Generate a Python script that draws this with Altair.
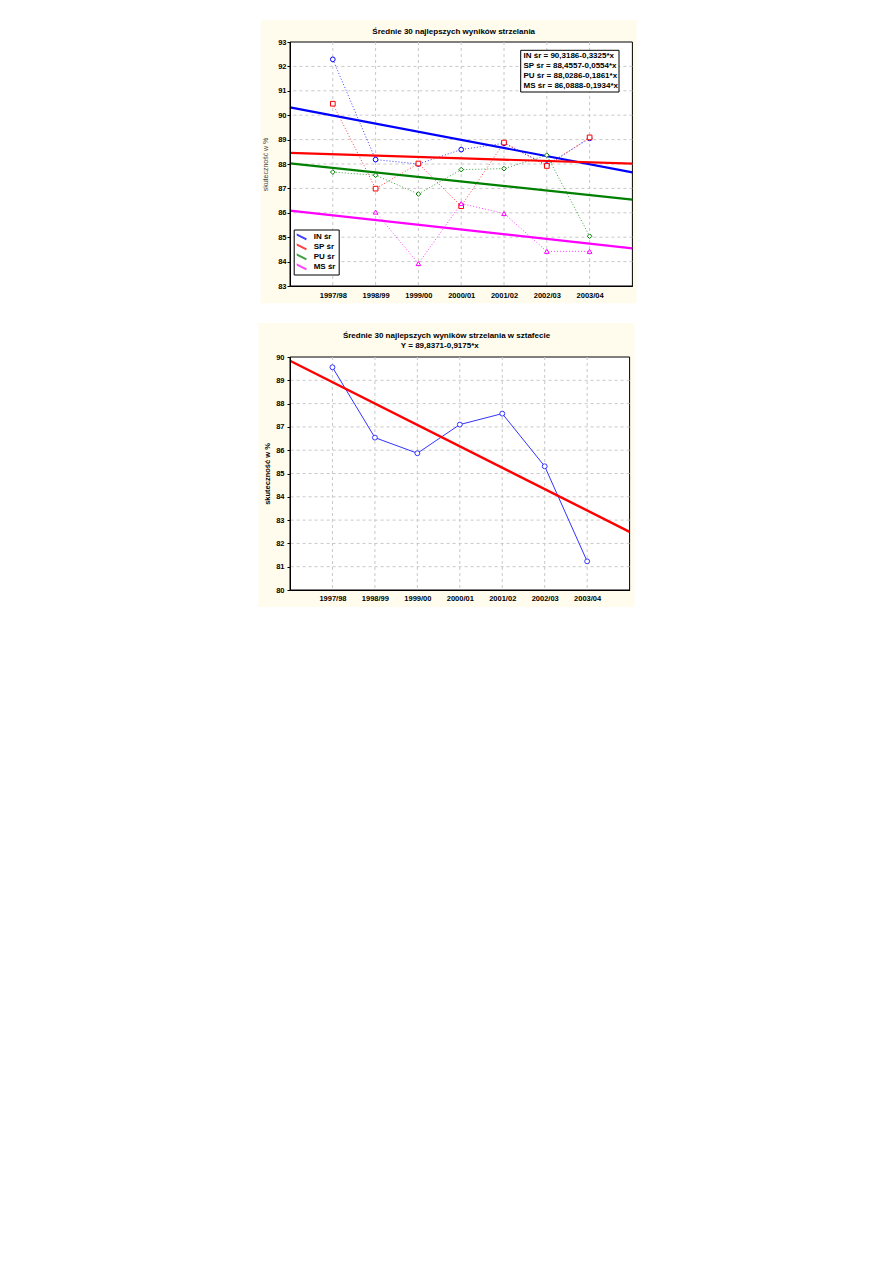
import json
import altair as alt
import pandas as pd

# ---------------- data ----------------
seasons = ["1997/98", "1998/99", "1999/00", "2000/01", "2001/02", "2002/03", "2003/04"]
x_pos = [1, 2, 3, 4, 5, 6, 7]

series_names = ["IN śr", "SP śr", "PU śr", "MS śr"]
in_sr = [92.29, 88.18, 88.00, 88.59, 88.85, 87.96, 89.05]
sp_sr = [90.47, 86.99, 88.02, 86.27, 88.88, 87.92, 89.09]
pu_sr = [87.67, 87.54, 86.77, 87.77, 87.81, 88.36, 85.04]
ms_sr = [None, 86.03, 83.92, 86.38, 85.97, 84.42, 84.42]
intercepts = [90.3186, 88.4557, 88.0286, 86.0888]
slopes = [-0.3325, -0.0554, -0.1861, -0.1934]
colors = ["#0000ff", "#ff0000", "#008000", "#ff00ff"]
shapes = ["circle", "square", "diamond", "triangle-up"]
y_ticks_top = list(range(83, 94))

relay = [89.56, 86.54, 85.87, 87.10, 87.57, 85.31, 81.23]
relay_intercept = 89.8371
relay_slope = -0.9175
y_ticks_bottom = list(range(80, 91))

x_span = [0, 8]

title_top = "Średnie 30 najlepszych wyników strzelania"
title_bottom = ["Średnie 30 najlepszych wyników strzelania w sztafecie", "Y = 89,8371-0,9175*x"]
y_title = "skuteczność w %"

# ---------------- tables ----------------
all_series = [in_sr, sp_sr, pu_sr, ms_sr]
rows = []
for name, vals in zip(series_names, all_series):
    for xp, v in zip(x_pos, vals):
        rows.append({"series": name, "x": xp, "y": v})
top_df = pd.DataFrame(rows)

reg_rows = []
for name, a, b in zip(series_names, intercepts, slopes):
    for xv in x_span:
        reg_rows.append({"series": name, "x": xv, "y": a + b * xv})
reg_df = pd.DataFrame(reg_rows)

def fmt_eq(prefix, a, b):
    s = f"{prefix} = {a:.4f}-{abs(b):.4f}*x"
    return s.replace(".", ",")

eq_text = "\n".join(fmt_eq(n, a, b) for n, a, b in zip(series_names, intercepts, slopes))
eq_df = pd.DataFrame({"t": [eq_text]})

relay_df = pd.DataFrame({"x": x_pos, "y": relay})
relay_reg_df = pd.DataFrame({"x": x_span, "y": [relay_intercept + relay_slope * v for v in x_span]})

one = pd.DataFrame({"a": [0]})
label_expr = f"{json.dumps(seasons)}[datum.value - 1]"

FONT = "Liberation Sans"
GRID = dict(color="#c8c8c8", strokeDash=[3, 3], strokeWidth=1)
TXT = dict(font=FONT, fontSize=8, fontWeight="bold", color="black")

# ---------------- top chart ----------------
W1, H1 = 342.4, 244
xs1 = alt.Scale(domain=x_span, nice=False, zero=False)
ys1 = alt.Scale(domain=[83, 93], nice=False, zero=False)
cscale = alt.Scale(domain=series_names, range=colors)

x_axis1 = alt.Axis(values=x_pos, labelExpr=label_expr, grid=False, tickSize=0,
                   labelPadding=5, title=None, zindex=1)
y_axis1 = alt.Axis(values=y_ticks_top, grid=False, tickSize=3, labelPadding=1,
                   title=y_title, titleFontWeight="normal", titleColor="#444444",
                   titleFontSize=7, titlePadding=9, zindex=1)

cream1 = alt.Chart(one).mark_rect(color="#fffcee").encode(
    x=alt.value(-29.3), x2=alt.value(W1 + 4.3), y=alt.value(-21.7), y2=alt.value(H1 + 17.3))
white1 = alt.Chart(one).mark_rect(fill="white", stroke="black", strokeWidth=1).encode(
    x=alt.value(0), x2=alt.value(W1), y=alt.value(0), y2=alt.value(H1))
vgrid1 = alt.Chart(pd.DataFrame({"x": x_pos})).mark_rule(**GRID).encode(
    x=alt.X("x:Q", scale=xs1, axis=x_axis1))
hgrid1 = alt.Chart(pd.DataFrame({"y": y_ticks_top[1:-1]})).mark_rule(**GRID).encode(
    y=alt.Y("y:Q", scale=ys1, axis=y_axis1))

data_lines = alt.Chart(top_df).mark_line(strokeDash=[1, 2], strokeWidth=1, opacity=0.75).encode(
    x=alt.X("x:Q", scale=xs1, axis=x_axis1),
    y=alt.Y("y:Q", scale=ys1, axis=y_axis1),
    color=alt.Color("series:N", scale=cscale),
    detail="series:N")

reg_lines = alt.Chart(reg_df).mark_line(strokeWidth=2.2).encode(
    x=alt.X("x:Q", scale=xs1, axis=x_axis1),
    y=alt.Y("y:Q", scale=ys1, axis=y_axis1),
    color=alt.Color("series:N", scale=cscale,
                    legend=alt.Legend(title=None, orient="none", legendX=3.7, legendY=187.5,
                                      fillColor="white", strokeColor="black", padding=3,
                                      symbolType="M-1.5,-0.75L1.5,0.75", symbolSize=49,
                                      symbolStrokeWidth=2, symbolFillColor="transparent",
                                      labelFont=FONT, labelFontSize=8, labelFontWeight="bold",
                                      labelColor="black", rowPadding=1, labelOffset=8,
                                      clipHeight=8.5, labelLimit=60)))

point_layers = []
for name, col, shp in zip(series_names, colors, shapes):
    point_layers.append(
        alt.Chart(top_df).transform_filter(alt.datum.series == name).mark_point(
            shape=shp, color=col, filled=False, fill="white", fillOpacity=1, size=22, strokeWidth=1
        ).encode(
            x=alt.X("x:Q", scale=xs1, axis=x_axis1),
            y=alt.Y("y:Q", scale=ys1, axis=y_axis1)))

eq_box = alt.Chart(one).mark_rect(fill="white", stroke="black", strokeWidth=1).encode(
    x=alt.value(230.7), x2=alt.value(329), y=alt.value(8.3), y2=alt.value(50))
eq_txt = alt.Chart(eq_df).mark_text(align="left", baseline="top", lineBreak="\n", lineHeight=10,
                                     **TXT).encode(
    x=alt.value(233.5), y=alt.value(10), text="t:N")

ttl1 = alt.Chart(pd.DataFrame({"t": [title_top]})).mark_text(
    align="center", baseline="middle", **TXT).encode(
    x=alt.value(163.7), y=alt.value(-9.6), text="t:N")

top = alt.layer(cream1, white1, vgrid1, hgrid1, data_lines, reg_lines, *point_layers,
                eq_box, eq_txt, ttl1).properties(width=W1, height=H1)

# ---------------- bottom chart ----------------
W2, H2 = 339.6, 233
xs2 = alt.Scale(domain=x_span, nice=False, zero=False)
ys2 = alt.Scale(domain=[80, 90], nice=False, zero=False)

x_axis2 = alt.Axis(values=x_pos, labelExpr=label_expr, grid=False, tickSize=0,
                   labelPadding=4, title=None, zindex=1)
y_axis2 = alt.Axis(values=y_ticks_bottom, grid=False, tickSize=3, labelPadding=3,
                   title=y_title, titleFontWeight="bold", titleColor="black",
                   titleFontSize=7.5, titlePadding=4, zindex=1)

cream2 = alt.Chart(one).mark_rect(color="#fffcee").encode(
    x=alt.value(-31.5), x2=alt.value(W2 + 4.9), y=alt.value(-34), y2=alt.value(H2 + 17))
white2 = alt.Chart(one).mark_rect(fill="white", stroke="black", strokeWidth=1).encode(
    x=alt.value(0), x2=alt.value(W2), y=alt.value(0), y2=alt.value(H2))
vgrid2 = alt.Chart(pd.DataFrame({"x": x_pos})).mark_rule(**GRID).encode(
    x=alt.X("x:Q", scale=xs2, axis=x_axis2))
hgrid2 = alt.Chart(pd.DataFrame({"y": y_ticks_bottom[1:-1]})).mark_rule(**GRID).encode(
    y=alt.Y("y:Q", scale=ys2, axis=y_axis2))

relay_line = alt.Chart(relay_df).mark_line(color="#3333ff", strokeWidth=1).encode(
    x=alt.X("x:Q", scale=xs2, axis=x_axis2),
    y=alt.Y("y:Q", scale=ys2, axis=y_axis2))
relay_reg = alt.Chart(relay_reg_df).mark_line(color="#ff0000", strokeWidth=2.4).encode(
    x=alt.X("x:Q", scale=xs2, axis=x_axis2),
    y=alt.Y("y:Q", scale=ys2, axis=y_axis2))
relay_pts = alt.Chart(relay_df).mark_point(shape="circle", filled=False, fill="white", fillOpacity=1,
                                            color="#3333ff", size=24, strokeWidth=1).encode(
    x=alt.X("x:Q", scale=xs2, axis=x_axis2),
    y=alt.Y("y:Q", scale=ys2, axis=y_axis2))

ttl2a = alt.Chart(pd.DataFrame({"t": [title_bottom[0]]})).mark_text(
    align="center", baseline="middle", **TXT).encode(
    x=alt.value(156.5), y=alt.value(-21), text="t:N")
ttl2b = alt.Chart(pd.DataFrame({"t": [title_bottom[1]]})).mark_text(
    align="center", baseline="middle", **TXT).encode(
    x=alt.value(149.8), y=alt.value(-11), text="t:N")

bottom = alt.layer(cream2, white2, vgrid2, hgrid2, relay_line, relay_reg, relay_pts,
                   ttl2a, ttl2b).properties(width=W2, height=H2)

chart = alt.vconcat(top, bottom, spacing=19).properties(
    padding={"left": 250, "top": 12, "right": 5, "bottom": 5},
    background="white",
).configure_view(stroke=None).configure_axis(
    labelFont=FONT, labelFontSize=7.5, labelFontWeight="bold", labelColor="black",
    titleFont=FONT, domainColor="black", tickColor="black", domainWidth=1,
)

chart.save("out.html", embed_options={"renderer": "svg", "actions": False})
